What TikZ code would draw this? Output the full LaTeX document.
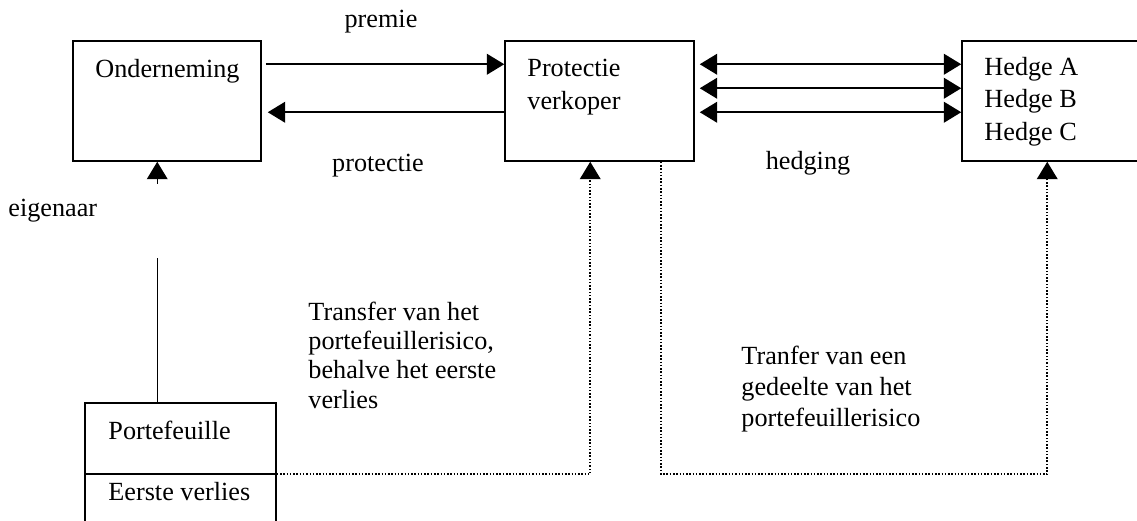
\documentclass[tikz,border=0pt]{standalone}
\usepackage{fontspec}
\setmainfont{Liberation Serif}
\usetikzlibrary{arrows.meta, positioning, calc, fit}

\begin{document}
\begin{tikzpicture}[x=0.458pt, y=-0.458pt, >={Triangle[length=8pt, width=9.5pt]},
    box/.style={draw, line width=0.7pt, inner sep=0pt},
    txt/.style={anchor=base west, inner sep=0pt, align=left, font=\fontsize{12}{14.7}\selectfont},
    lbl/.style={inner sep=0pt, font=\fontsize{12}{14}\selectfont},
    flow/.style={->, line width=0.9pt},
    dots/.style={->, line width=0.7pt, dash pattern=on 0.7pt off 0.8pt}]

    \useasboundingbox (0,0) rectangle (1137,520);
    \clip (0,0) rectangle (1137,520);

    % Boxes
    \node[box, fit={(73,41) (261,161)}] (onder) {};
    \node[box, fit={(505,41) (694,161)}] (prot) {};
    \node[box, fit={(962,41) (1180,161)}] (hedge) {};
    \node[box, fit={(85,403) (276,560)}] (portef) {};
    \coordinate (splitw) at ($(portef.north west)+(0,72)$);
    \coordinate (splite) at ($(portef.north east)+(0,72)$);
    \draw[line width=0.7pt] (splitw) -- (splite);

    % Box texts (multi-line ones sit on their last line)
    \node[txt] (ondertxt) at (95,77) {Onderneming};
    \node[txt] (prottxt) at (527,109) {Protectie\\verkoper};
    \node[txt] (hedgetxt) at (984,140) {Hedge A\\Hedge B\\Hedge C};
    \node[txt] (portxt) at (108,439) {Portefeuille};
    \node[txt] (eerste) at (108,500) {Eerste verlies};

    % Premie and protectie
    \draw[flow] ($(onder.north east)+(4,24)$) -- ($(prot.north west)+(0,24)$);
    \draw[flow] ($(prot.north west)+(0,72)$) -- ($(onder.north east)+(6,72)$);
    \node[lbl] (premie) at (381,22) {premie};
    \node[lbl] (protectie) at (378,166) {protectie};

    % Hedging
    \foreach \dy in {24,48,72} {
        \draw[flow, <->] ($(prot.north east)+(5,\dy)$) -- ($(hedge.north west)+(0,\dy)$);
    }
    \node[lbl] (hedging) at (808,163) {hedging};

    % Eigenaar
    \coordinate (owner) at ($(portef.north west)+(73,0)$);
    \draw[->, line width=0.6pt] (owner) -- (owner |- onder.south);
    \node[txt, anchor=north west, fill=white, text width=70pt, text height=14.5pt, text depth=19pt]
        (eigenaar) at (8,184) {eigenaar};

    % Transfers
    \coordinate (inprot) at ($(prot.south west)+(86,0)$);
    \coordinate (outprot) at ($(prot.south west)+(157,0)$);
    \coordinate (inhedge) at ($(hedge.south west)+(86,0)$);
    \draw[dots] (splite) -| (inprot);
    \draw[dots] (outprot) -- (outprot |- splite) -| (inhedge);
    \node[txt, font=\fontsize{12}{13.3}\selectfont] (transfer) at (308,408)
        {Transfer van het\\portefeuillerisico,\\behalve het eerste\\verlies};
    \node[txt, font=\fontsize{12}{14.2}\selectfont] (tranfer) at (741,426)
        {Tranfer van een\\gedeelte van het\\portefeuillerisico};
\end{tikzpicture}
\end{document}
